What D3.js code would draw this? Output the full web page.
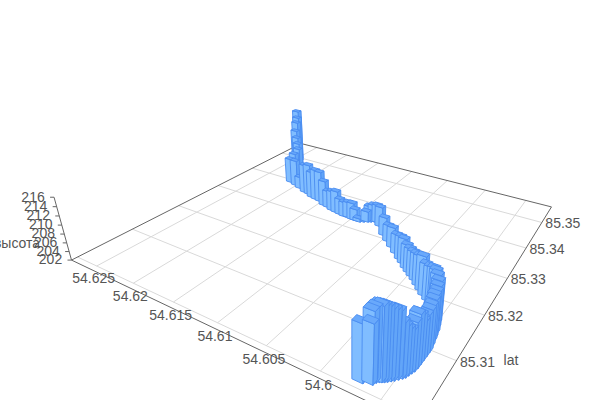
<!DOCTYPE html>
<html><head><meta charset="utf-8">
<script src="https://cdn.jsdelivr.net/npm/d3@7"></script>
<style>html,body{margin:0;background:#fff}svg{display:block}text{font-family:"Liberation Sans",Arial,sans-serif;font-size:14px;fill:#555}</style>
</head><body><svg id="c" width="600" height="400"></svg>
<script>
const lonTicks=[54.595,54.6,54.605,54.61,54.615,54.62,54.625];
const latTicks=[85.30,85.31,85.32,85.33,85.34,85.35];
const zTicks=[202,204,206,208,210,212,214,216];
const lonLabels=[54.6,54.605,54.61,54.615,54.62,54.625];
const latLabels=[85.31,85.32,85.33,85.34,85.35];
const lonExtent=[54.592,54.6278], latExtent=[85.299,85.357];
const lonValues=[54.62483,54.62442,54.62412,54.62363,54.62294,54.62227,54.62171,54.62159,54.62129,54.62026,54.61935,54.61820,54.61749,54.61673,54.61605,54.61537,54.61442,54.61376,54.61298,
54.61235,54.61172,54.61110,54.61061,54.61000,54.60961,54.60922,54.60886,54.60849,54.60822,54.60785,54.60738,54.60668,54.60541,54.60449,54.60361,54.60275,54.60193,54.60137,
54.60074,54.60021,54.59969,54.59917,54.59861,54.59806,54.59752,54.59693,54.59647,54.59605,54.59565,54.59527,54.59508,54.59490,54.59479,54.59472,54.59461,54.59451,54.59452,
54.59453,54.59454,54.59455,54.59460,54.59470,54.59480,54.59489,54.59503,54.59523,54.59543,54.59560,54.59580,54.59596,54.59612,54.59628,54.59644,54.59660,54.59655,54.59722];
const latValues=[85.34978,85.34888,85.34788,85.34647,85.34533,85.34421,85.34300,85.34138,85.33942,85.33885,85.33819,85.33730,85.33702,85.33629,85.33602,85.33576,85.33484,85.33458,85.33401,
85.33377,85.33353,85.33329,85.33337,85.33313,85.33311,85.33309,85.33347,85.33385,85.33414,85.33452,85.33459,85.33365,85.33136,85.33003,85.32874,85.32750,85.32630,85.32555,
85.32457,85.32386,85.32317,85.32249,85.32160,85.32074,85.31990,85.31915,85.31856,85.31770,85.31660,85.31553,85.31454,85.31357,85.31256,85.31197,85.31100,85.31005,85.30921,
85.30839,85.30758,85.30679,85.30616,85.30569,85.30521,85.30474,85.30442,85.30404,85.30365,85.30337,85.30308,85.30285,85.30268,85.30255,85.30227,85.30208,85.30180,85.30140];
const heightValues=[216.1,214.8,213.9,212.3,211.1,210.2,209.5,208.9,208.5,208.8,205.1,209.4,209.9,208.8,209.8,209.8,208.4,206.3,207.0,
207.5,206.0,205.7,205.9,206.2,204.9,202.8,202.5,204.6,205.9,206.2,206.4,206.9,206.5,206.0,206.9,206.6,207.5,207.9,
207.6,207.6,207.8,208.2,208.8,209.8,209.1,209.5,210.1,210.6,210.9,210.9,210.8,210.7,210.9,210.6,210.4,210.5,210.3,
209.8,211.7,212.6,211.6,210.5,211.0,211.9,212.8,215.0,215.3,215.6,216.0,216.2,216.3,216.3,216.0,215.5,213.6,213.3];
const U=d3.scaleLinear().domain([54.595,54.625]).range([0,1]);
const V=d3.scaleLinear().domain([85.30,85.35]).range([0,1]);
const Z=d3.scaleLinear().domain([202,216]).range([0,1]);
const P=[[381,399.5],[96.7,266],[298.6,157.4],[515,215.3]];
const VP=[352,1270];
const [x0,y0]=P[0],[x1,y1]=P[1],[x2,y2]=P[2],[x3,y3]=P[3];
const dx1=x1-x2,dx2=x3-x2,sx=x0-x1+x2-x3,dy1=y1-y2,dy2=y3-y2,sy=y0-y1+y2-y3,den=dx1*dy2-dx2*dy1;
const g=(sx*dy2-dx2*sy)/den,h=(dx1*sy-sx*dy1)/den;
const a=x1-x0+g*x1,b=x3-x0+h*x3,c=x0,d=y1-y0+g*y1,e=y3-y0+h*y3,f=y0;
const wA=g*U(lonExtent[1])+h*V(latExtent[0])+1;
const k=-0.0586*wA;
function pr(lon,lat,z){const u=U(lon),v=V(lat),t=k*Z(z===undefined?202:z),w=g*u+h*v+1+t;
 return [(a*u+b*v+c+t*VP[0])/w,(d*u+e*v+f+t*VP[1])/w];}
const bars=lonValues.map((lon,i)=>({lon,lat:latValues[i],z:heightValues[i]}));
const svg=d3.select('#c');
const line=d3.line();
const seg=(p,q,st,sw)=>svg.append('path').attr('d',line([p,q])).attr('stroke',st).attr('stroke-width',sw).attr('fill','none');
const [lo0,lo1]=lonExtent,[la0,la1]=latExtent;
latTicks.forEach(t=>seg(pr(lo0,t),pr(lo1,t),'#d9d9d9',1));
lonTicks.forEach(t=>seg(pr(t,latTicks[0]),pr(t,la1),'#d9d9d9',1));
seg(pr(lo1,la0),pr(lo1,la1),'#666',1);seg(pr(lo1,la1),pr(lo0,la1),'#666',1);seg(pr(lo0,la1),pr(lo0,la0),'#666',1);seg(pr(lo0,la0),pr(lo1,la0),'#666',1);
seg(pr(lo1,la0),pr(lo1,la0,216),'#666',1);
zTicks.forEach(t=>{const q=pr(lo1,la0,t);seg(q,[q[0]-4,q[1]],'#666',1);
 svg.append('text').attr('x',q[0]-21).attr('y',q[1]-0.5).attr('dy','0.35em').attr('text-anchor','middle').text(t);});
lonLabels.forEach(t=>{const q=pr(t,la0);svg.append('text').attr('x',q[0]+3).attr('y',q[1]+9).attr('dy','0.35em').attr('text-anchor','middle').text(t);});
latLabels.forEach(t=>{const q=pr(lo0,t);svg.append('text').attr('x',q[0]+21).attr('y',q[1]+1).attr('dy','0.35em').attr('text-anchor','middle').text(t);});
svg.append('text').attr('x',17).attr('y',243).attr('dy','0.35em').attr('text-anchor','middle').text('высота');
svg.append('text').attr('x',511).attr('y',360).attr('dy','0.35em').attr('text-anchor','middle').text('lat');
const bl=0.00046,bb=0.0005;
const sorted=bars.slice().sort((p,q)=>pr(p.lon,p.lat)[1]-pr(q.lon,q.lat)[1]);
const poly=pts=>'M'+pts.map(p=>p.map(n=>n.toFixed(2)).join(',')).join('L')+'Z';
const gs=svg.selectAll('g.bar').data(sorted).join('g').attr('class','bar').attr('stroke','#4a8cf0').attr('stroke-width',0.9).attr('stroke-linejoin','round');
gs.append('path').attr('fill','#80bdff').attr('d',o=>poly([pr(o.lon+bl,o.lat-bb),pr(o.lon-bl,o.lat-bb),pr(o.lon-bl,o.lat-bb,o.z),pr(o.lon+bl,o.lat-bb,o.z)]));
gs.append('path').attr('fill','#62a5f8').attr('d',o=>poly([pr(o.lon-bl,o.lat-bb),pr(o.lon-bl,o.lat+bb),pr(o.lon-bl,o.lat+bb,o.z),pr(o.lon-bl,o.lat-bb,o.z)]));
gs.append('path').attr('fill','#69a9fb').attr('d',o=>poly([pr(o.lon-bl,o.lat-bb,o.z),pr(o.lon+bl,o.lat-bb,o.z),pr(o.lon+bl,o.lat+bb,o.z),pr(o.lon-bl,o.lat+bb,o.z)]));
</script></body></html>
